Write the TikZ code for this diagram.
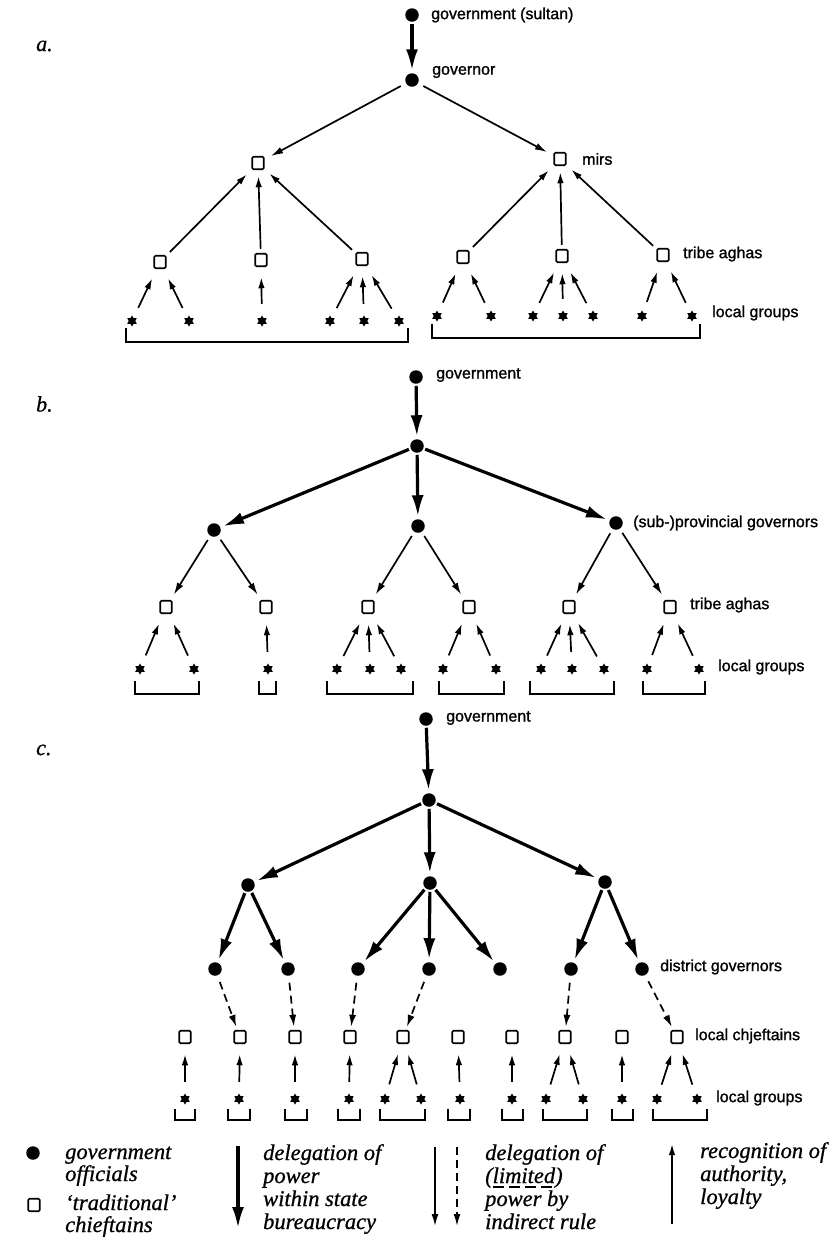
\documentclass[tikz,border=0pt]{standalone}
\usepackage{fontspec}
\setmainfont{Liberation Serif}
\newfontfamily\labfont[FakeBold=1.2]{Liberation Sans}
\newfontfamily\legfont[FakeBold=0.8]{Liberation Serif}
\usetikzlibrary{arrows.meta,shapes.geometric}
\begin{document}
\begin{tikzpicture}[x=1pt,y=-1pt,
  off/.style={circle,fill=black,inner sep=0pt,minimum size=13.5pt,outer sep=2pt},
  chf/.style={draw,line width=1.6pt,fill=white,inner sep=0pt,minimum width=11.5pt,minimum height=12.5pt,rounded corners=1.2pt,outer sep=2pt},
  grp/.style={star,star points=6,star point ratio=1.7,fill=black,inner sep=0pt,minimum size=11pt,outer sep=1pt},
  lab/.style={anchor=west,inner sep=0pt,font=\labfont\fontsize{16}{18}\selectfont},
  part/.style={anchor=west,inner sep=0pt,font=\legfont\fontsize{22}{24}\selectfont\itshape},
  leg/.style={anchor=base west,inner sep=0pt,font=\legfont\fontsize{22.5}{23}\selectfont\itshape},
  bureau/.style={line width=3.2pt,-{Latex[length=21pt,width=12pt]}},
  indir/.style={line width=1.7pt,-{Latex[length=12pt,width=7pt]}},
  dashind/.style={indir,dash pattern=on 8pt off 5pt},
  recog/.style={line width=1.7pt,-{Latex[length=11pt,width=6.5pt]}},
  loc/.style={recog,shorten <=10pt,shorten >=9pt},
  longrec/.style={recog,shorten <=3pt,shorten >=5pt},
  brk/.style={line width=1.4pt},
]
\fill[white] (0,0) rectangle (840,1251);
\useasboundingbox (0,0) rectangle (840,1251);

% ---------------- part a ----------------
\node[part] (pa) at (36,46) {a.};
\node[off] (a0) at (412,15) {};
\node[lab] (a0l) at (431,15) {government (sultan)};
\node[off] (a1) at (412,80) {};
\node[lab] (a1l) at (432,72) {governor};
\node[chf] (am1) at (258,163) {};
\node[chf] (am2) at (560,159) {};
\node[lab] (am2l) at (582,159) {mirs};
\foreach \i/\x/\y in {1/160/262,2/261/260,3/362/259,4/463/257,5/562/256,6/663/255}
  \node[chf] (aa\i) at (\x,\y) {};
\node[lab] (aa6l) at (683,254) {tribe aghas};
\foreach \i/\x/\y in {1/132/321,2/189/321,3/262/321,4/330/321,5/364/321,6/399/321,
  7/437/316,8/491/316,9/533/316,10/563/316,11/593/316,12/642/316,13/692/316}
  \node[grp] (ag\i) at (\x,\y) {};
\node[lab] (agl) at (712,313) {local groups};
\draw[bureau,shorten >=1pt] (a0) -- (a1);
\draw[indir,shorten <=4pt,shorten >=6pt] (a1) -- (am1);
\draw[indir,shorten <=4pt,shorten >=6pt] (a1) -- (am2);
\foreach \s/\t in {1/1,2/1,3/1,4/2,5/2,6/2}
  \draw[longrec] (aa\s) -- (am\t);
\foreach \s/\t in {1/1,2/1,3/2,4/3,5/3,6/3,7/4,8/4,9/5,10/5,11/5,12/6,13/6}
  \draw[loc] (ag\s) -- (aa\t);
\draw[brk] (126,328) |- (408,342) -- (408,328);
\draw[brk] (432,324) |- (700,338) -- (700,324);

% ---------------- part b ----------------
\node[part] (pb) at (36,404) {b.};
\node[off] (b0) at (416,377) {};
\node[lab] (b0l) at (436,375) {government};
\node[off] (b1) at (417,446) {};
\node[off] (bp1) at (214,530) {};
\node[off] (bp2) at (418,526) {};
\node[off] (bp3) at (616,523) {};
\node[lab] (bp3l) at (633,523) {(sub-)provincial governors};
\foreach \i/\x in {1/166,2/266,3/368,4/469,5/569,6/670}
  \node[chf] (ba\i) at (\x,607) {};
\node[lab] (ba6l) at (690,605) {tribe aghas};
\foreach \i/\x in {1/140,2/194,3/268,4/337,5/370,6/401,7/443,8/496,9/541,10/572,11/604,12/647,13/699}
  \node[grp] (bg\i) at (\x,669) {};
\node[lab] (bgl) at (718,667) {local groups};
\draw[bureau,shorten >=1pt] (b0) -- (b1);
\foreach \t in {1,2,3} \draw[bureau,shorten >=1pt] (b1) -- (bp\t);
\foreach \s/\t in {1/1,1/2,2/3,2/4,3/5,3/6}
  \draw[indir,shorten <=3pt,shorten >=5pt] (bp\s) -- (ba\t);
\foreach \s/\t in {1/1,2/1,3/2,4/3,5/3,6/3,7/4,8/4,9/5,10/5,11/5,12/6,13/6}
  \draw[loc] (bg\s) -- (ba\t);
\foreach \l/\r in {135/199,259/276,327/413,439/504,530/614,643/705}
  \draw[brk] (\l,681) |- (\r,694) -- (\r,681);

% ---------------- part c ----------------
\node[part] (pc) at (36,750) {c.};
\node[off] (c0) at (426,719) {};
\node[lab] (c0l) at (446,718) {government};
\node[off] (c1) at (429,800) {};
\node[off] (c2a) at (248,885) {};
\node[off] (c2b) at (430,883) {};
\node[off] (c2c) at (605,882) {};
\foreach \i/\x in {1/215,2/288,3/358,4/429,5/500,6/571,7/642}
  \node[off] (cd\i) at (\x,969) {};
\node[lab] (cdl) at (660,967) {district governors};
\foreach \i/\x in {1/185,2/240,3/295,4/350,5/403,6/458,7/512,8/565,9/622,10/677}
  \node[chf] (ch\i) at (\x,1037) {};
\node[lab] (chl) at (695,1036) {local chjeftains};
\foreach \i/\x in {1/185,2/239,3/295,4/349,5/385,6/421,7/460,8/512,9/546,10/583,11/622,12/657,13/697}
  \node[grp] (cg\i) at (\x,1099) {};
\node[lab] (cgl) at (716,1098) {local groups};
\draw[bureau,shorten >=1pt] (c0) -- (c1);
\foreach \t in {a,b,c} \draw[bureau,shorten >=1pt] (c1) -- (c2\t);
\foreach \s/\t in {a/1,a/2,b/3,b/4,b/5,c/6,c/7}
  \draw[bureau,shorten >=1pt] (c2\s) -- (cd\t);
\foreach \s/\t in {1/2,2/3,3/4,4/5,6/8,7/10}
  \draw[dashind,shorten <=5pt,shorten >=2pt] (cd\s) -- (ch\t);
\foreach \s/\t in {1/1,2/2,3/3,4/4,5/5,6/5,7/6,8/7,9/8,10/8,11/9,12/10,13/10}
  \draw[loc] (cg\s) -- (ch\t);
\foreach \l/\r in {175/195,228/250,285/307,338/360,380/425,448/470,502/523,543/587,612/633,653/707}
  \draw[brk] (\l,1109) |- (\r,1120) -- (\r,1109);

% ---------------- legend ----------------
\node[off] (lg1) at (33,1153) {};
\node[leg] (lg1a) at (65,1159) {government};
\node[leg] (lg1b) at (65,1181) {officials};
\node[chf] (lg2) at (34,1205) {};
\node[leg] (lg2a) at (65,1210) {‘traditional’};
\node[leg] (lg2b) at (65,1232) {chieftains};

\coordinate (la1) at (238,1146);
\coordinate (la2) at (238,1228);
\draw[bureau] (la1) -- (la2);
\node[leg] (lt1) at (263,1160) {delegation of};
\node[leg] (lt2) at (263,1183) {power};
\node[leg] (lt3) at (263,1206) {within state};
\node[leg] (lt4) at (263,1229) {bureaucracy};

\coordinate (lb1) at (435,1147);
\coordinate (lb2) at (435,1226);
\draw[indir] (lb1) -- (lb2);
\coordinate (lc1) at (457,1147);
\coordinate (lc2) at (457,1226);
\draw[dashind] (lc1) -- (lc2);
\node[leg] (lu1) at (485,1160) {delegation of};
\node[leg] (lu2) at (485,1183) {(limited)};
\node[leg] (lu3) at (485,1206) {power by};
\node[leg] (lu4) at (485,1229) {indirect rule};
\draw[line width=1.5pt,dash pattern=on 11pt off 5pt]
  ([xshift=8pt,yshift=-4pt]lu2.base west) -- ([xshift=-8pt,yshift=-4pt]lu2.base east);

\coordinate (ld1) at (672,1224);
\coordinate (ld2) at (672,1144);
\draw[recog] (ld1) -- (ld2);
\node[leg] (lv1) at (700,1158) {recognition of};
\node[leg] (lv2) at (700,1181) {authority,};
\node[leg] (lv3) at (700,1204) {loyalty};
\end{tikzpicture}
\end{document}
